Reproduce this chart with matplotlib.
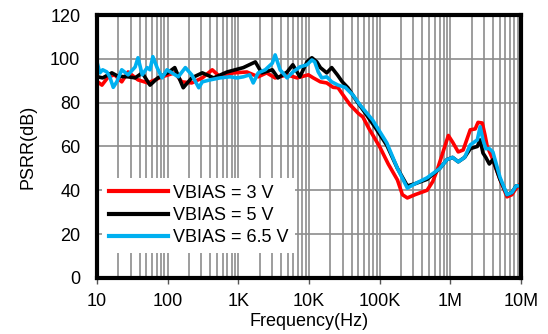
import matplotlib
matplotlib.use('Agg')
import matplotlib.pyplot as plt
from matplotlib.ticker import FixedLocator, LogLocator, NullFormatter

plt.rcParams['font.family'] = ['Liberation Sans', 'DejaVu Sans']

# log10(frequency) / PSRR (dB) readings for each bias voltage
logf_3v = [1.01, 1.07, 1.16, 1.25, 1.35, 1.44, 1.58, 1.72, 1.92, 2.10, 2.20, 2.34, 2.49,
           2.63, 2.74, 2.93, 3.12, 3.28, 3.40, 3.52, 3.69, 3.83, 3.99, 4.06, 4.16, 4.25,
           4.34, 4.41, 4.48, 4.58, 4.70, 4.76, 4.85, 5.00, 5.12, 5.25, 5.32, 5.39, 5.50,
           5.67, 5.75, 5.81, 5.90, 5.97, 6.03, 6.11, 6.18, 6.28, 6.35, 6.39, 6.45, 6.49,
           6.52, 6.60, 6.70, 6.80, 6.87, 6.91, 6.99]
psrr_3v = [89.5, 88.0, 91.8, 92.7, 89.5, 94.0, 90.4, 89.0, 91.8, 93.6, 89.5, 89.0, 91.3,
           95.0, 91.8, 93.6, 94.0, 91.8, 93.6, 91.3, 92.7, 91.3, 92.7, 91.3, 89.5, 89.0,
           87.0, 86.8, 83.5, 79.0, 75.0, 73.5, 68.0, 59.8, 52.0, 44.7, 38.0, 36.5, 38.0,
           40.0, 44.0, 49.0, 58.0, 65.0, 62.0, 57.5, 58.4, 67.6, 68.0, 71.0, 70.7, 65.0,
           60.0, 54.0, 45.0, 37.0, 38.0, 40.0, 43.0]

logf_5v = [1.01, 1.08, 1.21, 1.30, 1.44, 1.54, 1.64, 1.75, 1.86, 2.00, 2.10, 2.22, 2.34,
           2.49, 2.65, 2.84, 3.07, 3.24, 3.33, 3.48, 3.56, 3.69, 3.77, 3.87, 3.97, 4.04,
           4.11, 4.16, 4.25, 4.32, 4.40, 4.47, 4.55, 4.68, 4.80, 4.95, 5.10, 5.25, 5.39,
           5.50, 5.67, 5.85, 5.95, 6.03, 6.11, 6.20, 6.28, 6.38, 6.42, 6.46, 6.50, 6.55,
           6.60, 6.70, 6.80, 6.87, 6.93, 6.99]
psrr_5v = [91.8, 91.3, 93.6, 92.0, 91.8, 91.3, 93.6, 88.0, 91.3, 93.6, 96.0, 86.8, 91.3,
           93.6, 91.3, 94.0, 96.0, 98.6, 93.6, 95.0, 91.3, 94.0, 97.3, 91.8, 98.6, 100.5,
           98.6, 96.0, 93.6, 96.0, 92.7, 89.5, 86.8, 80.4, 75.0, 68.0, 60.5, 50.0, 42.0,
           43.0, 45.0, 50.0, 54.0, 55.0, 53.0, 55.0, 59.0, 60.0, 63.0, 57.0, 55.0, 52.0,
           54.0, 45.0, 38.0, 39.0, 42.0, 42.0]

logf_65v = [1.01, 1.04, 1.08, 1.14, 1.18, 1.23, 1.28, 1.35, 1.44, 1.54, 1.58, 1.64, 1.71,
            1.75, 1.79, 1.85, 1.92, 1.99, 2.06, 2.15, 2.25, 2.34, 2.44, 2.49, 2.60, 2.74,
            2.88, 2.98, 3.07, 3.16, 3.21, 3.28, 3.38, 3.48, 3.52, 3.59, 3.69, 3.77, 3.87,
            3.97, 4.04, 4.08, 4.13, 4.18, 4.25, 4.32, 4.41, 4.51, 4.62, 4.72, 4.90, 5.10,
            5.25, 5.39, 5.50, 5.67, 5.85, 5.95, 6.03, 6.11, 6.20, 6.28, 6.38, 6.42, 6.46,
            6.50, 6.55, 6.60, 6.70, 6.80, 6.87, 6.93, 6.99]
psrr_65v = [97.3, 93.6, 95.0, 94.0, 91.8, 87.0, 89.5, 95.0, 92.7, 96.3, 100.5, 92.7, 96.0,
            95.0, 101.0, 96.0, 91.3, 95.0, 93.6, 91.8, 96.0, 92.7, 86.8, 89.5, 90.4, 91.3,
            91.8, 91.3, 91.8, 92.7, 89.0, 93.6, 95.0, 98.0, 101.8, 95.0, 91.3, 94.0, 96.3,
            97.3, 99.5, 98.6, 94.0, 91.3, 91.8, 89.5, 88.0, 87.0, 83.5, 79.0, 72.0, 61.6,
            50.0, 41.0, 43.0, 45.7, 50.0, 54.0, 55.0, 53.0, 55.0, 60.7, 63.0, 69.0, 63.0,
            59.0, 59.0, 57.5, 46.0, 38.0, 39.0, 42.0, 42.0]

series = [
    ('VBIAS = 3 V', logf_3v, psrr_3v, '#ff0000'),
    ('VBIAS = 5 V', logf_5v, psrr_5v, '#000000'),
    ('VBIAS = 6.5 V', logf_65v, psrr_65v, '#00b0f0'),
]

x_ticks = [1e1, 1e2, 1e3, 1e4, 1e5, 1e6, 1e7]
x_labels = ['10', '100', '1K', '10K', '100K', '1M', '10M']
y_ticks = [0, 20, 40, 60, 80, 100, 120]

fig = plt.figure(figsize=(5.48, 3.34), dpi=100)
ax = fig.add_axes([0.177, 0.168, 0.774, 0.787])

for label, lf, db, color in series:
    ax.plot([10 ** v for v in lf], db, color=color, lw=2.6, label=label, solid_joinstyle='round')

ax.set_xscale('log')
ax.set_xlim(10, 1e7)
ax.set_ylim(0, 120)
ax.xaxis.set_major_locator(FixedLocator(x_ticks))
ax.set_xticklabels(x_labels)
ax.xaxis.set_minor_locator(LogLocator(base=10, subs=range(2, 10), numticks=20))
ax.xaxis.set_minor_formatter(NullFormatter())
ax.set_yticks(y_ticks)

ax.grid(True, which='both', axis='x', color='#8c8c8c', lw=1.2)
ax.grid(True, which='major', axis='y', color='#8c8c8c', lw=1.2)
ax.set_axisbelow(True)

for s in ax.spines.values():
    s.set_linewidth(3)

ax.tick_params(axis='both', which='major', labelsize=13)
ax.tick_params(axis='x', which='major', length=4, width=1, color='#555555', pad=7)
ax.tick_params(axis='y', which='major', length=0, pad=12)
ax.tick_params(axis='x', which='minor', length=0)

ax.set_xlabel('Frequency(Hz)', fontsize=13, labelpad=2)
ax.set_ylabel('PSRR(dB)', fontsize=13, labelpad=10)

leg = ax.legend(loc='lower left', bbox_to_anchor=(0.0, 0.075), frameon=True, fontsize=13,
                handlelength=3.3, handletextpad=0.25, labelspacing=0.3, borderaxespad=0.3,
                borderpad=0.35)
leg.get_frame().set_facecolor('white')
leg.get_frame().set_edgecolor('none')
leg.get_frame().set_alpha(1)
leg.get_frame().set_boxstyle('square', pad=0)
for line in leg.get_lines():
    line.set_linewidth(3)

fig.savefig('out.png', dpi=100)
